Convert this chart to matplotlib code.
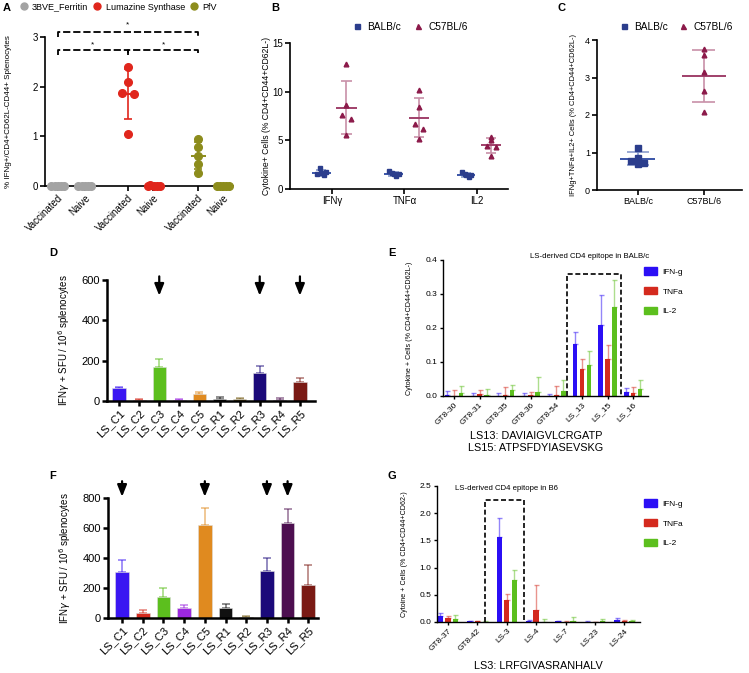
import numpy as np
import matplotlib
matplotlib.use('Agg')
import matplotlib.pyplot as plt
from matplotlib.lines import Line2D
from matplotlib.patches import Patch

plt.rcParams['font.family'] = ['Liberation Sans', 'DejaVu Sans']

# ---- data ----
# panel A
a_series = ['3BVE_Ferritin', 'Lumazine Synthase', 'PfV']
a_ticks = ['Vaccinated', 'Naive', 'Vaccinated', 'Naive', 'Vaccinated', 'Naive']
ferritin_vacc = [0.0, 0.0, 0.0, 0.0, 0.0]
ferritin_naive = [0.0, 0.0, 0.0, 0.0, 0.0]
ls_vacc = [2.40, 2.10, 1.88, 1.85, 1.05]
ls_naive = [0.03, 0.01, 0.0, 0.0, 0.0]
pfv_vacc = [0.95, 0.78, 0.60, 0.45, 0.27]
pfv_naive = [0.0, 0.0, 0.0, 0.0, 0.0]

# panel B
b_cats = ['IFNγ', 'TNFα', 'IL2']
b_balb = [[1.5, 2.2, 1.6, 1.4, 1.7],
          [1.9, 1.6, 1.5, 1.3, 1.5],
          [1.7, 1.5, 1.4, 1.2, 1.4]]
b_c57 = [[12.8, 8.6, 7.6, 7.2, 5.5],
         [10.2, 8.4, 6.7, 6.2, 5.1],
         [5.3, 5.0, 4.4, 4.3, 3.4]]

# panel C
c_cats = ['BALB/c', 'C57BL/6']
c_balb = [1.12, 0.85, 0.78, 0.72, 0.70]
c_c57 = [3.75, 3.60, 3.15, 2.65, 2.08]

# panels D and F
pep_names = ['LS_C1', 'LS_C2', 'LS_C3', 'LS_C4', 'LS_C5',
             'LS_R1', 'LS_R2', 'LS_R3', 'LS_R4', 'LS_R5']
d_mean = [63, 5, 170, 5, 35, 12, 12, 140, 5, 92]
d_err = [5, 3, 37, 3, 10, 6, 4, 32, 10, 20]
d_arrows = ['LS_C3', 'LS_R3', 'LS_R5']
f_mean = [307, 33, 140, 64, 620, 67, 9, 311, 636, 220]
f_err = [77, 20, 58, 23, 113, 26, 4, 89, 91, 133]
f_arrows = ['LS_C1', 'LS_C5', 'LS_R3', 'LS_R4']

# panel E
e_names = ['GT8-30', 'GT8-31', 'GT8-35', 'GT8-36', 'GT8-54', 'LS_13', 'LS_15', 'LS_16']
e_ifn = [0.003, 0.0, 0.0, 0.0, 0.001, 0.153, 0.209, 0.011]
e_ifn_err = [0.011, 0.008, 0.009, 0.009, 0.005, 0.036, 0.089, 0.013]
e_tnf = [0.0, 0.006, 0.002, 0.004, 0.004, 0.079, 0.109, 0.010]
e_tnf_err = [0.019, 0.012, 0.024, 0.008, 0.024, 0.029, 0.041, 0.016]
e_il2 = [0.010, 0.003, 0.018, 0.013, 0.016, 0.092, 0.263, 0.021]
e_il2_err = [0.019, 0.019, 0.015, 0.042, 0.031, 0.040, 0.078, 0.026]

# panel G
g_names = ['GT8-37', 'GT8-42', 'LS-3', 'LS-4', 'LS-7', 'LS-23', 'LS-24']
g_ifn = [0.11, 0.012, 1.56, 0.024, 0.012, 0.006, 0.03]
g_ifn_err = [0.06, 0.008, 0.35, 0.013, 0.008, 0.006, 0.05]
g_tnf = [0.073, 0.01, 0.40, 0.226, 0.006, 0.003, 0.012]
g_tnf_err = [0.043, 0.01, 0.12, 0.454, 0.009, 0.005, 0.031]
g_il2 = [0.061, 0.005, 0.78, 0.006, 0.024, 0.012, 0.018]
g_il2_err = [0.073, 0.01, 0.18, 0.049, 0.066, 0.048, 0.017]

cyto = ['IFN-g', 'TNFa', 'IL-2']

# ---- styles ----
W, H = 749, 673
fig = plt.figure(figsize=(W / 100, H / 100), dpi=100)

gray, red, olive = '#a3a3a3', '#e0261c', '#8c8c1c'
navy, maroon = '#2b3d8c', '#8c1a4a'
blue_c, red_c, green_c = '#2b0ff5', '#d42a1e', '#5cbf1e'
pep_colors = ['#3a16f2', '#d42a1e', '#5cbf1e', '#9b28e0', '#e08a1f',
              '#111111', '#7d6420', '#1b0a7a', '#4d0f50', '#7a1a14']


def add_ax(l, t, r, b, lw=1.2):
    ax = fig.add_axes([l / W, 1 - b / H, (r - l) / W, (b - t) / H])
    ax.spines['top'].set_visible(False)
    ax.spines['right'].set_visible(False)
    ax.spines['left'].set_linewidth(lw)
    ax.spines['bottom'].set_linewidth(lw)
    ax.tick_params(width=lw, length=3.5, labelsize=7, pad=1.5)
    return ax


def mean_sd(ax, x, vals, color, w_mean, w_cap, lcolor=None):
    m = np.mean(vals)
    s = np.std(vals, ddof=1)
    lc = lcolor if lcolor else color
    ax.vlines(x, m - s, m + s, color=lc, lw=1.2, zorder=2)
    ax.hlines([m - s, m + s], x - w_cap / 2, x + w_cap / 2, color=lc, lw=1.2, zorder=2)
    ax.hlines(m, x - w_mean / 2, x + w_mean / 2, color=color, lw=1.4, zorder=2)


# ---------- A ----------
ax = add_ax(45, 37, 233, 186)
a_pos = [0, 1, 2.59, 3.52, 5.19, 6.11]
a_data = [ferritin_vacc, ferritin_naive, ls_vacc, ls_naive, pfv_vacc, pfv_naive]
a_cols = [gray, gray, red, red, olive, olive]
spread0 = [-0.24, -0.12, 0, 0.12, 0.24]
a_spread = [spread0, spread0, [0, 0, -0.22, 0.22, 0], [-0.1, 0.05, 0.15, 0.25, -0.2],
            [0, 0, 0, 0, 0], spread0]
for p, vals, c, sp in zip(a_pos, a_data, a_cols, a_spread):
    mean_sd(ax, p, vals, c, 0.55, 0.3)
    ax.plot(np.array(sp) + p, vals, 'o', color=c, ms=5.5, clip_on=False, zorder=3)
ax.set_xlim(-0.48, 6.48)
ax.set_ylim(0, 3)
ax.set_yticks([0, 1, 2, 3])
ax.set_xticks(a_pos)
ax.set_xticklabels(a_ticks, rotation=45, ha='right', rotation_mode='anchor', fontsize=7)
ax.set_ylabel('% IFNg+/CD4+CD62L-CD44+ Splenocytes', fontsize=5.8)
ax.yaxis.set_label_coords(-0.175, 0.5)
# significance brackets
kw = dict(color='k', ls=(0, (4, 1.6)), lw=1.3, clip_on=False)
ax.plot([a_pos[0], a_pos[0], a_pos[4], a_pos[4]], [3.0, 3.1, 3.1, 3.0], **kw)
ax.plot([a_pos[0], a_pos[0], a_pos[2], a_pos[2]], [2.64, 2.74, 2.74, 2.64], **kw)
ax.plot([a_pos[2], a_pos[2], a_pos[4], a_pos[4]], [2.64, 2.74, 2.74, 2.64], **kw)
ax.text(a_pos[2], 3.22, '*', ha='center', fontsize=6)
ax.text((a_pos[0] + a_pos[2]) / 2, 2.82, '*', ha='center', fontsize=6)
ax.text((a_pos[2] + a_pos[4]) / 2, 2.82, '*', ha='center', fontsize=6)
hA = [Line2D([], [], marker='o', ls='', color=c, ms=5) for c in [gray, red, olive]]
fig.legend(hA, a_series, ncol=3, loc='center left', bbox_to_anchor=(15 / W, 1 - 7 / H),
           frameon=False, fontsize=6.5, handletextpad=0.4, columnspacing=0.5,
           handlelength=1.0, borderpad=0)

# ---------- B ----------
ax = add_ax(290, 43, 508, 189)
xb = np.arange(len(b_cats))
sq_sp = [-0.06, -0.02, 0.0, 0.04, 0.07]
tr_sp = [0, 0, -0.06, 0.06, 0]
for i in range(len(b_cats)):
    mean_sd(ax, xb[i] - 0.15, b_balb[i], '#3a55a8', 0.26, 0.14, '#8a9ccc')
    ax.plot(xb[i] - 0.15 + np.array(sq_sp), b_balb[i], 's', color=navy, ms=3.4, zorder=3)
    mean_sd(ax, xb[i] + 0.2, b_c57[i], '#a0406a', 0.28, 0.14, '#c890a8')
    ax.plot(xb[i] + 0.2 + np.array(tr_sp), b_c57[i], '^', color=maroon, ms=3.4, zorder=3)
ax.set_xlim(-0.58, 2.43)
ax.set_ylim(0, 15)
ax.set_yticks([0, 5, 10, 15])
ax.set_xticks(xb)
ax.set_xticklabels(b_cats, fontsize=7)
ax.set_ylabel('Cytokine+ Cells (% CD4+CD44+CD62L-)', fontsize=6.2)
ax.yaxis.set_label_coords(-0.085, 0.5)
hB = [Line2D([], [], marker='s', ls='', color=navy, ms=3.6),
      Line2D([], [], marker='^', ls='', color=maroon, ms=3.6)]
fig.legend(hB, c_cats, ncol=2, loc='center left', bbox_to_anchor=(347 / W, 1 - 27 / H),
           frameon=False, fontsize=7.3, handletextpad=0.5, columnspacing=1.2,
           handlelength=1.0, borderpad=0)

# ---------- C ----------
ax = add_ax(597, 40, 742, 190)
xc = np.arange(len(c_cats))
mean_sd(ax, xc[0], c_balb, '#3a55a8', 0.53, 0.33, '#8a9ccc')
ax.plot(xc[0] + np.array([0.0, 0.0, -0.1, 0.1, 0.0]), c_balb, 's', color=navy, ms=3.8, zorder=3)
mean_sd(ax, xc[1], c_c57, '#a0406a', 0.67, 0.35, '#c890a8')
ax.plot(np.full(5, xc[1]), c_c57, '^', color=maroon, ms=3.4, zorder=3)
ax.set_xlim(-0.62, 1.58)
ax.set_ylim(0, 4)
ax.set_yticks([0, 1, 2, 3, 4])
ax.set_xticks(xc)
ax.set_xticklabels(c_cats, fontsize=6.5)
ax.tick_params(labelsize=6.5)
ax.set_ylabel('IFNg+TNFa+IL2+ Cells (% CD4+CD44+CD62L-)', fontsize=5.4)
ax.yaxis.set_label_coords(-0.14, 0.5)
fig.legend(hB, c_cats, ncol=2, loc='center left', bbox_to_anchor=(614 / W, 1 - 27 / H),
           frameon=False, fontsize=7.3, handletextpad=0.5, columnspacing=1.0,
           handlelength=1.0, borderpad=0)


# ---------- D and F ----------
def spot_panel(l, t, r, b, means, errs, ymax, step, arrows, xlim, arr_top, arr_tip):
    ax = add_ax(l, t, r, b, lw=1.8)
    x = np.arange(len(pep_names))
    ax.bar(x, means, width=0.66, color=pep_colors, edgecolor='#dddddd', lw=0.4, zorder=2)
    for i in range(len(x)):
        ax.errorbar(x[i], means[i], yerr=[[0], [errs[i]]], color=pep_colors[i], alpha=0.55,
                    capsize=3, elinewidth=1.2, capthick=1.2, zorder=1)
    for name in arrows:
        i = pep_names.index(name)
        ax.annotate('', xy=(i, ymax * arr_tip), xytext=(i, ymax * arr_top),
                    arrowprops=dict(arrowstyle='-|>,head_width=0.28,head_length=0.7',
                                    color='k', lw=1.6, shrinkA=0, shrinkB=0),
                    annotation_clip=False)
    ax.set_xlim(*xlim)
    ax.set_ylim(0, ymax)
    ax.set_yticks(np.arange(0, ymax + 1, step))
    ax.set_xticks(x)
    ax.set_xticklabels(pep_names, rotation=45, ha='right', rotation_mode='anchor', fontsize=8)
    ax.tick_params(labelsize=8)
    ax.set_ylabel(r'IFN$\gamma$ + SFU / 10$^6$ splenocytes', fontsize=7)
    return ax


ax = spot_panel(107, 280, 315, 401, d_mean, d_err, 600, 200, d_arrows, (-0.6, 9.75), 1.03, 0.87)
ax.yaxis.set_label_coords(-0.17, 0.5)
ax = spot_panel(108, 498, 318, 618, f_mean, f_err, 800, 200, f_arrows, (-0.68, 9.47), 1.14, 1.01)
ax.yaxis.set_label_coords(-0.165, 0.5)


# ---------- E and G ----------
def cyto_panel(l, t, r, b, names, series, errs, off, xlim, ymax, step, box, title, tpos,
               ylabel, leg_y):
    ax = add_ax(l, t, r, b, lw=1.0)
    x = np.arange(len(names))
    for k, (vals, ee, c) in enumerate(zip(series, errs, [blue_c, red_c, green_c])):
        xx = x + (k - 1) * off
        ax.bar(xx, vals, width=0.18, color=c, zorder=2, label=cyto[k])
        ax.errorbar(xx, vals, yerr=[np.zeros(len(vals)), ee], fmt='none', ecolor=c,
                    alpha=0.5, capsize=1.8, elinewidth=1.0, capthick=1.0, zorder=1)
    ax.plot([box[0], box[0], box[1], box[1]], [0, box[2], box[2], 0], color='k',
            ls=(0, (3, 1.6)), lw=1.2, clip_on=False, zorder=3)
    ax.text(tpos[0], tpos[1], title, ha='center', va='center', fontsize=5.6)
    ax.set_xlim(*xlim)
    ax.set_ylim(0, ymax)
    ax.set_yticks(np.arange(0, ymax + step / 2, step))
    ax.yaxis.set_major_formatter(matplotlib.ticker.FormatStrFormatter('%.1f'))
    ax.set_xticks(x)
    ax.set_xticklabels(names, rotation=45, ha='right', rotation_mode='anchor', fontsize=5.6)
    ax.tick_params(labelsize=6, length=2.5)
    ax.set_ylabel(ylabel, fontsize=5.1)
    hl = [Patch(color=c) for c in [blue_c, red_c, green_c]]
    fig.legend(hl, cyto, loc='upper left', bbox_to_anchor=(640 / W, 1 - leg_y / H),
               frameon=False, fontsize=6, handlelength=1.5, handleheight=1.0,
               labelspacing=1.35, handletextpad=0.7, borderpad=0)
    return ax


ax = cyto_panel(443, 260, 648, 396, e_names, [e_ifn, e_tnf, e_il2],
                [e_ifn_err, e_tnf_err, e_il2_err], 0.27, (-0.43, 7.58), 0.4, 0.1,
                (4.42, 6.52, 0.36), 'LS-derived CD4 epitope in BALB/c', (5.3, 0.41),
                'Cytokine + Cells (% CD4+CD44+CD62L-)', 263)
ax.yaxis.set_label_coords(-0.146, 0.5)
ax = cyto_panel(437, 486, 640, 622, g_names, [g_ifn, g_tnf, g_il2],
                [g_ifn_err, g_tnf_err, g_il2_err], 0.255, (-0.37, 6.53), 2.5, 0.5,
                (1.25, 2.58, 2.24), 'LS-derived CD4 epitope in B6', (2.0, 2.45),
                'Cytoine + Cells (% CD4+CD44+CD62-)', 495)
ax.yaxis.set_label_coords(-0.143, 0.5)

# ---------- text ----------
fig.text(536 / W, 1 - 436 / H, 'LS13: DAVIAIGVLCRGATP', ha='center', va='center', fontsize=7.8)
fig.text(536 / W, 1 - 448 / H, 'LS15: ATPSFDYIASEVSKG', ha='center', va='center', fontsize=7.8)
fig.text(538 / W, 1 - 666 / H, 'LS3: LRFGIVASRANHALV', ha='center', va='center', fontsize=7.8)

for lab, xp, yp in [('A', 7, 8), ('B', 275, 8), ('C', 562, 8), ('D', 53, 253),
                    ('E', 392, 253), ('F', 53, 476), ('G', 392, 476)]:
    fig.text(xp / W, 1 - yp / H, lab, ha='center', va='center', fontsize=8, fontweight='bold')

fig.savefig('out.png', dpi=100)
